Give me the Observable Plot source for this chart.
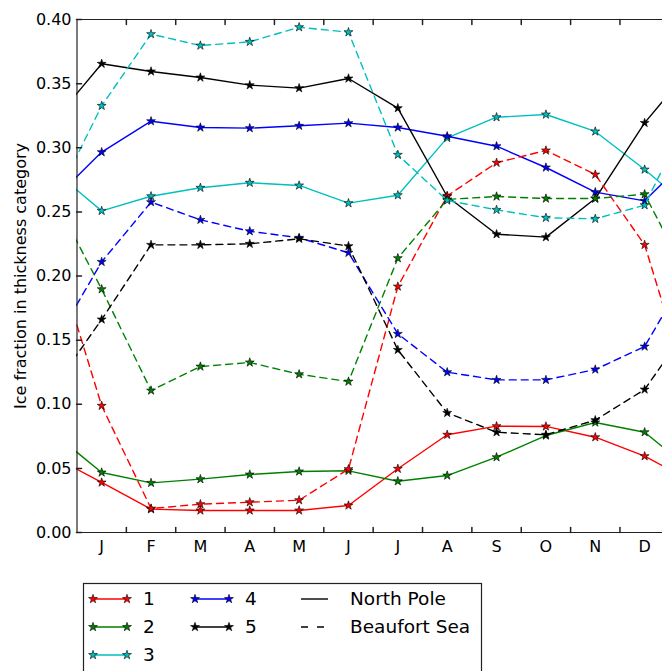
<!DOCTYPE html>
<html>
<head>
<meta charset="utf-8">
<script src="https://cdn.jsdelivr.net/npm/d3@7"></script>
<script src="https://cdn.jsdelivr.net/npm/@observablehq/plot@0.6"></script>
<style>
  html, body { margin: 0; padding: 0; background: #fff; overflow: hidden; }
  #chart svg { display: block; }
  #legend svg { display: block; }
</style>
</head>
<body>
<div id="chart"></div>
<div id="legend"></div>
<script>
// ---- data ----
const months = ["J","F","M","A","M","J","J","A","S","O","N","D"];
const categories = ["1","2","3","4","5"];
const colors = ["#ff0000","#008000","#00bfbf","#0000ff","#000000"];
const regions = ["North Pole","Beaufort Sea"];
const yTicks = [0, 0.05, 0.10, 0.15, 0.20, 0.25, 0.30, 0.35, 0.40];
const xTickMarks = [1.5, 2.5, 3.5, 4.5, 5.5, 6.5, 7.5, 8.5, 9.5, 10.5, 11.5];
const yLabel = "Ice fraction in thickness category";

// North Pole (solid)
const northPole1 = [0.039, 0.0182, 0.0172, 0.0172, 0.0172, 0.0211, 0.0497, 0.0762, 0.0829, 0.0827, 0.0743, 0.0595];
const northPole2 = [0.0468, 0.0387, 0.0416, 0.0452, 0.0476, 0.0481, 0.040, 0.0444, 0.0587, 0.0756, 0.0858, 0.0782];
const northPole3 = [0.2508, 0.2622, 0.2688, 0.2727, 0.2706, 0.2568, 0.263, 0.3077, 0.3238, 0.3259, 0.3127, 0.283];
const northPole4 = [0.2966, 0.3207, 0.3158, 0.3153, 0.3171, 0.3192, 0.3158, 0.309, 0.3012, 0.2846, 0.2654, 0.2586];
const northPole5 = [0.3655, 0.3595, 0.3548, 0.3488, 0.3465, 0.354, 0.3309, 0.262, 0.2326, 0.2303, 0.2604, 0.3194];
// Beaufort Sea (dashed)
const beaufort1 = [0.0988, 0.0187, 0.0221, 0.0236, 0.0252, 0.0494, 0.1918, 0.2625, 0.2883, 0.2979, 0.2791, 0.2243];
const beaufort2 = [0.1897, 0.1107, 0.1294, 0.1326, 0.1234, 0.1177, 0.2139, 0.2597, 0.262, 0.2604, 0.2604, 0.2638];
const beaufort3 = [0.3327, 0.3886, 0.3797, 0.3826, 0.394, 0.3901, 0.2945, 0.2589, 0.2516, 0.2454, 0.2446, 0.2552];
const beaufort4 = [0.211, 0.2576, 0.2438, 0.2349, 0.2298, 0.2181, 0.1549, 0.125, 0.119, 0.119, 0.1271, 0.145];
const beaufort5 = [0.1661, 0.2243, 0.2243, 0.2251, 0.229, 0.2233, 0.1424, 0.0933, 0.0782, 0.0762, 0.0876, 0.1115];

const seriesByRegion = [
  [northPole1, northPole2, northPole3, northPole4, northPole5],
  [beaufort1, beaufort2, beaufort3, beaufort4, beaufort5]
];
const dashes = [null, "7,5"];

// rows; the cycle wraps: month 0 = December, month 13 = January
const rows = [];
regions.forEach((region, ri) => {
  seriesByRegion[ri].forEach((vals, ci) => {
    for (let m = 0; m <= 13; m++) {
      rows.push({region, cat: categories[ci], m, v: vals[(m + 11) % 12]});
    }
  });
});

const tickShape = { draw(context, l) { context.moveTo(0, 0); context.lineTo(0, -l); } };

const W = 662, H = 570;
const marks = [];
regions.forEach((region, ri) => {
  categories.forEach((cat) => {
    const d = rows.filter(r => r.region === region && r.cat === cat);
    marks.push(Plot.line(d, {
      x: "m", y: "v", stroke: "cat", strokeWidth: 1.4,
      strokeDasharray: dashes[ri] ?? undefined, clip: true
    }));
    marks.push(Plot.dot(d.filter(r => r.m >= 1 && r.m <= 12), {
      x: "m", y: "v", fill: "cat", stroke: "#000", strokeWidth: 0.6,
      symbol: "star", r: 2.8, clip: true
    }));
  });
});

const chart = Plot.plot({
  width: W, height: H,
  marginLeft: 76, marginRight: 0, marginTop: 19, marginBottom: H - 532,
  style: {fontFamily: "'DejaVu Sans', sans-serif", fontSize: "16px", background: "#fff", color: "#000"},
  x: {domain: [0.5, 12.5], range: [76.5, 76.5 + 12 * 49.36]},
  y: {domain: [0, 0.4], range: [532, 19]},
  color: {domain: categories, range: colors},
  marks: [
    ...marks,
    Plot.ruleY([0, 0.4], {stroke: "#222", strokeWidth: 1.2}),
    Plot.ruleX([0.5], {stroke: "#222", strokeWidth: 1.2}),
    Plot.vector(yTicks, {y: d => d, frameAnchor: "left", rotate: 90, length: 5, anchor: "start", shape: tickShape, stroke: "#222"}),
    Plot.vector(xTickMarks, {x: d => d, frameAnchor: "bottom", rotate: 0, length: 5, anchor: "start", shape: tickShape, stroke: "#222"}),
    Plot.vector(xTickMarks, {x: d => d, frameAnchor: "top", rotate: 180, length: 5, anchor: "start", shape: tickShape, stroke: "#222"}),
    Plot.axisX({ticks: d3.range(1, 13), tickFormat: d => months[d - 1], tickSize: 0, tickPadding: 8, fontSize: 16, label: null}),
    Plot.axisY({ticks: yTicks, tickFormat: d => d.toFixed(2), tickSize: 0, tickPadding: 5, fontSize: 16, label: null}),
    Plot.text([yLabel], {text: d => d, frameAnchor: "left", textAnchor: "middle", lineAnchor: "middle", dx: -56, rotate: -90, fontSize: 16, fill: "#000"})
  ]
});
document.getElementById("chart").appendChild(chart);

// ---- legend ----
const LH = 671 - H;
const lsvg = d3.select("#legend").append("svg")
  .attr("width", W).attr("height", LH)
  .style("font-family", "'DejaVu Sans', sans-serif").style("font-size", "18.5px");
lsvg.append("rect").attr("x", 83.5).attr("y", 13.5).attr("width", 398).attr("height", 140)
  .attr("fill", "#fff").attr("stroke", "#222").attr("stroke-width", 1.2);
const star = d3.symbol(d3.symbolStar, Math.PI * 2.8 * 2.8);
const rowY = [29, 57, 85];
categories.forEach((cat, i) => {
  const col = Math.floor(i / 3), row = i % 3;
  const x0 = col === 0 ? 93 : 195, x1 = x0 + 34, y = rowY[row];
  lsvg.append("line").attr("x1", x0).attr("x2", x1).attr("y1", y).attr("y2", y)
    .attr("stroke", colors[i]).attr("stroke-width", 1.4);
  [x0, x1].forEach(x => lsvg.append("path").attr("d", star())
    .attr("transform", `translate(${x},${y})`).attr("fill", colors[i])
    .attr("stroke", "#000").attr("stroke-width", 0.6));
  lsvg.append("text").attr("x", x1 + 16).attr("y", y).attr("dy", "0.35em").text(cat);
});
regions.forEach((region, i) => {
  const y = rowY[i];
  lsvg.append("line").attr("x1", 301).attr("x2", 328).attr("y1", y).attr("y2", y)
    .attr("stroke", "#000").attr("stroke-width", 1.4)
    .attr("stroke-dasharray", i === 1 ? "7,9" : null);
  lsvg.append("text").attr("x", 350).attr("y", y).attr("dy", "0.35em").text(region);
});
</script>
</body>
</html>
